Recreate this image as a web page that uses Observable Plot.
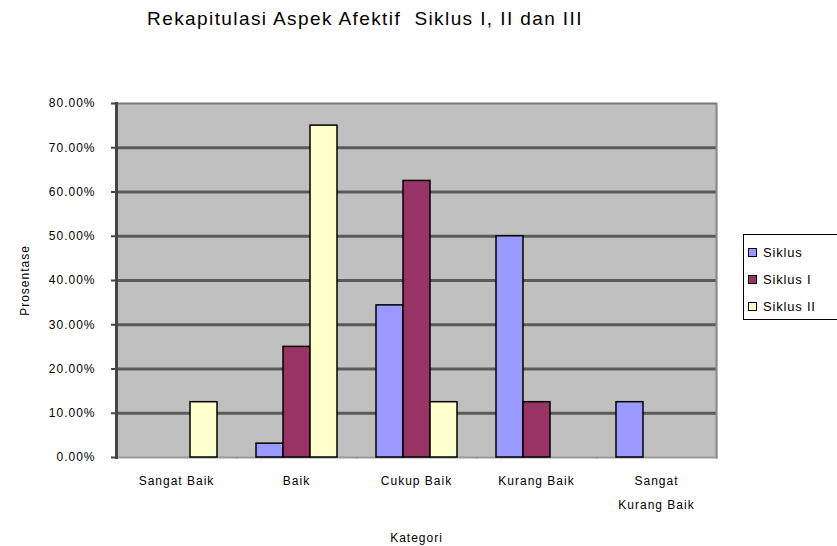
<!DOCTYPE html>
<html><head><meta charset="utf-8">
<script src="https://cdn.jsdelivr.net/npm/d3@7"></script>
<script src="https://cdn.jsdelivr.net/npm/@observablehq/plot@0.6"></script>
<style>
html,body{margin:0;padding:0}
body{width:837px;height:546px;overflow:hidden;background:#fff;position:relative;font-family:"Liberation Sans",Arial,sans-serif;color:#000}
#title{position:absolute;left:0;top:8px;width:730px;text-align:center;font-size:19px;letter-spacing:1.4px;white-space:pre}
#chart{position:absolute;left:0;top:0}
#chart text{letter-spacing:1px}
#legend{position:absolute;left:743px;top:234px;width:120px;height:86px;border:1px solid #000;background:#fff;box-sizing:border-box;padding-top:4px}
.item{display:flex;align-items:center;height:27px;font-size:13px;letter-spacing:0.8px}
.sw{width:7px;height:7px;border:1px solid #000;margin:0 6px 0 4px}
</style></head><body>
<div id="title">Rekapitulasi Aspek Afektif  Siklus I, II dan III</div>
<div id="chart"></div>
<div id="legend"></div>
<script>
const categories = ["Sangat Baik", "Baik", "Cukup Baik", "Kurang Baik", "Sangat Kurang Baik"];
const categoryLabels = ["Sangat Baik", "Baik", "Cukup Baik", "Kurang Baik", "Sangat\nKurang Baik"];
const series = ["Siklus I", "Siklus II", "Siklus III"];
const legendLabels = ["Siklus", "Siklus I", "Siklus II"];
const siklus1 = [0, 3.13, 34.38, 50, 12.5];
const siklus2 = [0, 25, 62.5, 12.5, 0];
const siklus3 = [12.5, 75, 12.5, 0, 0];
const yTicks = [0, 10, 20, 30, 40, 50, 60, 70, 80];
const colors = ["#9999ff", "#993366", "#ffffcc"];

const values = [siklus1, siklus2, siklus3];
const data = [];
categories.forEach((c, i) => series.forEach((s, j) => data.push({cat: c, series: s, value: values[j][i]})));
const labelOf = new Map(categories.map((c, i) => [c, categoryLabels[i]]));

const chart = Plot.plot({
  width: 740, height: 546,
  marginLeft: 114, marginRight: 23, marginTop: 103, marginBottom: 89,
  style: {fontFamily: "Liberation Sans, Arial, sans-serif", fontSize: "12px", background: "transparent", color: "#000"},
  fx: {domain: categories, padding: 0},
  x: {domain: series, paddingInner: 0, paddingOuter: 0.65, axis: null},
  y: {domain: [0, 80]},
  color: {domain: series, range: colors},
  marks: [
    Plot.frame({fill: "#c0c0c0", stroke: null, insetLeft: -1, insetRight: -1}),
    Plot.ruleY(yTicks.filter(t => t > 0 && t < 80), {stroke: "#5a5a5a", strokeWidth: 3}),
    Plot.ruleY([80], {stroke: "#7a7a7a", strokeWidth: 2}),
    Plot.frame({anchor: "bottom", stroke: "#9a9a9a", strokeWidth: 2}),
    Plot.frame({anchor: "right", facetAnchor: "right", stroke: "#8a8a8a", strokeWidth: 2}),
    Plot.barY(data.filter(d => d.value > 0), {fx: "cat", x: "series", y: "value", fill: "series", stroke: "#000", strokeWidth: 1.5}),
    Plot.frame({anchor: "left", facetAnchor: "left", stroke: "#444", strokeWidth: 3}),
    Plot.axisY({ticks: yTicks, tickFormat: d => d.toFixed(2) + "%", tickSize: 5, tickPadding: 16, stroke: "#444", strokeWidth: 2,
      label: "Prosentase", labelAnchor: "center", labelOffset: 96, labelArrow: "none"}),
    Plot.axisFx({anchor: "bottom", tickSize: 0, tickPadding: 11, lineHeight: 1.95, tickFormat: d => labelOf.get(d),
      label: "Kategori", labelAnchor: "center", labelOffset: 84, labelArrow: "none"})
  ]
});
document.getElementById("chart").appendChild(chart);

const legend = document.getElementById("legend");
series.forEach((s, i) => {
  const row = document.createElement("div");
  row.className = "item";
  row.innerHTML = `<span class="sw" style="background:${colors[i]}"></span><span>${legendLabels[i]}</span>`;
  legend.appendChild(row);
});
</script>
</body></html>
